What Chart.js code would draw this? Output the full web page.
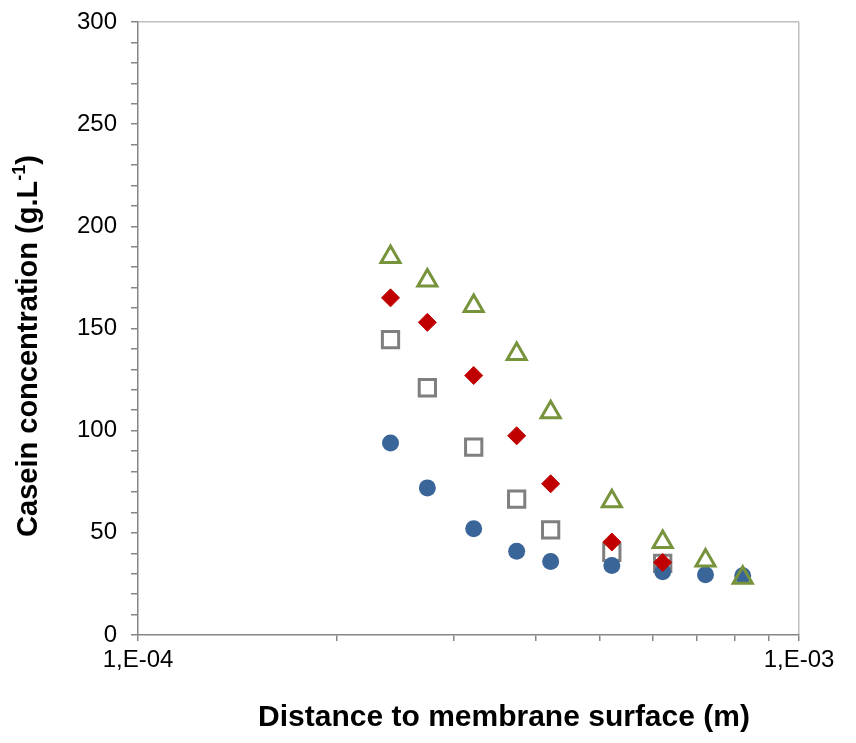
<!DOCTYPE html>
<html>
<head>
<meta charset="utf-8">
<title>Casein concentration vs distance to membrane</title>
<script src="https://cdn.jsdelivr.net/npm/chart.js@4.4.1/dist/chart.umd.min.js"></script>
<style>
    html, body { margin: 0; padding: 0; background: #ffffff; }
    #chart { display: block; }
</style>
</head>
<body>
<canvas id="chart" width="856" height="743"></canvas>
<script>
// Values (x in m, y in g/L)
const distance = [2.41e-4, 2.74e-4, 3.22e-4, 3.74e-4, 4.21e-4, 5.21e-4, 6.22e-4, 7.22e-4, 8.22e-4];
const circleSeries = [94, 72, 52, 41, 36, 34, 31, 29.5, 29];
const squareSeries = [144.5, 121, 92, 66.5, 51.5, 40.5, 35];
const diamondSeries = [165, 153, 127, 97.5, 74, 45.5, 35.5];
const triangleSeries = [185, 173.5, 161, 137.5, 109, 65.5, 45.5, 36.5, 28];

// Axis ticks
const xTickValues = [1e-4, 2e-4, 3e-4, 4e-4, 5e-4, 6e-4, 7e-4, 8e-4, 9e-4, 1e-3];
const xTickLabels = ['1,E-04', '', '', '', '', '', '', '', '', '1,E-03'];
const yMin = 0;
const yMax = 300;
const yMinorStep = 10;
const yLabelStep = 50;

const X_TITLE = 'Distance to membrane surface (m)';
const Y_TITLE = 'Casein concentration (g.L';
const Y_TITLE_SUP = '-1';
const Y_TITLE_END = ')';

const FONT = '"Liberation Sans", Arial, sans-serif';
const AXIS_COLOR = '#868686';
const FRAME_COLOR = '#c0c0c0';

function toPoints(values) {
    return values.map((y, i) => ({ x: distance[i], y: y }));
}

// Axis titles (y title needs a real superscript)
const axisTitles = {
    id: 'axisTitles',
    afterDraw(chart) {
        const ctx = chart.ctx;
        ctx.save();
        ctx.fillStyle = '#000000';
        ctx.textBaseline = 'middle';

        ctx.font = 'bold 30px ' + FONT;
        ctx.textAlign = 'center';
        ctx.fillText(X_TITLE, 504, 718);

        ctx.translate(29, 346);
        ctx.rotate(-Math.PI / 2);
        ctx.textAlign = 'left';
        ctx.font = 'bold 29px ' + FONT;
        const wMain = ctx.measureText(Y_TITLE).width;
        const wEnd = ctx.measureText(Y_TITLE_END).width;
        ctx.font = 'bold 18px ' + FONT;
        const wSup = ctx.measureText(Y_TITLE_SUP).width;
        let x = -(wMain + wSup + wEnd) / 2;
        ctx.font = 'bold 29px ' + FONT;
        ctx.fillText(Y_TITLE, x, 0);
        x += wMain;
        ctx.font = 'bold 18px ' + FONT;
        ctx.fillText(Y_TITLE_SUP, x, -9);
        x += wSup;
        ctx.font = 'bold 29px ' + FONT;
        ctx.fillText(Y_TITLE_END, x, 0);
        ctx.restore();
    }
};

new Chart(document.getElementById('chart'), {
    type: 'scatter',
    data: {
        datasets: [
            {
                label: 'triangle',
                data: toPoints(triangleSeries),
                pointStyle: 'triangle',
                pointRadius: 11,
                borderWidth: 3,
                borderColor: '#77933c',
                backgroundColor: 'rgba(0,0,0,0)'
            },
            {
                label: 'diamond',
                data: toPoints(diamondSeries),
                pointStyle: 'rectRot',
                pointRadius: 9,
                borderWidth: 1,
                borderColor: '#c00000',
                backgroundColor: '#c00000'
            },
            {
                label: 'circle',
                data: toPoints(circleSeries),
                pointStyle: 'circle',
                pointRadius: 8.5,
                borderWidth: 0,
                borderColor: '#3a6598',
                backgroundColor: '#3a6598'
            },
            {
                label: 'square',
                data: toPoints(squareSeries),
                pointStyle: 'rect',
                pointRadius: 11.5,
                borderWidth: 3,
                borderColor: '#7f7f7f',
                backgroundColor: 'rgba(0,0,0,0)'
            }
        ]
    },
    options: {
        responsive: false,
        animation: false,
        events: [],
        layout: { padding: { top: 22, right: 57, left: 0, bottom: 0 } },
        plugins: {
            legend: { display: false },
            tooltip: { enabled: false }
        },
        scales: {
            x: {
                type: 'logarithmic',
                min: 1e-4,
                max: 1e-3,
                afterFit: scale => {
                    scale.height = 108;
                    scale.paddingLeft = 0;
                    scale.paddingRight = 0;
                },
                afterBuildTicks: scale => {
                    scale.ticks = xTickValues.map(v => ({ value: v }));
                },
                border: { display: true, color: AXIS_COLOR, width: 1.5 },
                grid: {
                    drawOnChartArea: true,
                    drawTicks: true,
                    tickLength: 6,
                    tickColor: AXIS_COLOR,
                    tickWidth: 1.5,
                    color: ctx => (ctx.index === xTickValues.length - 1) ? FRAME_COLOR : 'rgba(0,0,0,0)',
                    lineWidth: 1.5
                },
                ticks: {
                    autoSkip: false,
                    maxRotation: 0,
                    padding: 5,
                    color: '#000000',
                    font: { family: FONT, size: 24 },
                    callback: (value, index) => xTickLabels[index]
                }
            },
            y: {
                type: 'linear',
                min: yMin,
                max: yMax,
                afterFit: scale => {
                    scale.width = 138;
                    scale.paddingTop = 0;
                    scale.paddingBottom = 0;
                },
                border: { display: true, color: AXIS_COLOR, width: 1.5 },
                grid: {
                    drawOnChartArea: true,
                    drawTicks: true,
                    tickLength: 7,
                    tickColor: AXIS_COLOR,
                    tickWidth: 1.5,
                    color: ctx => (ctx.tick && ctx.tick.value === yMax) ? FRAME_COLOR : 'rgba(0,0,0,0)',
                    lineWidth: 1.5
                },
                ticks: {
                    stepSize: yMinorStep,
                    autoSkip: false,
                    padding: 14,
                    color: '#000000',
                    font: { family: FONT, size: 24 },
                    callback: value => (value % yLabelStep === 0 ? String(value) : '')
                }
            }
        }
    },
    plugins: [axisTitles]
});
</script>
</body>
</html>
